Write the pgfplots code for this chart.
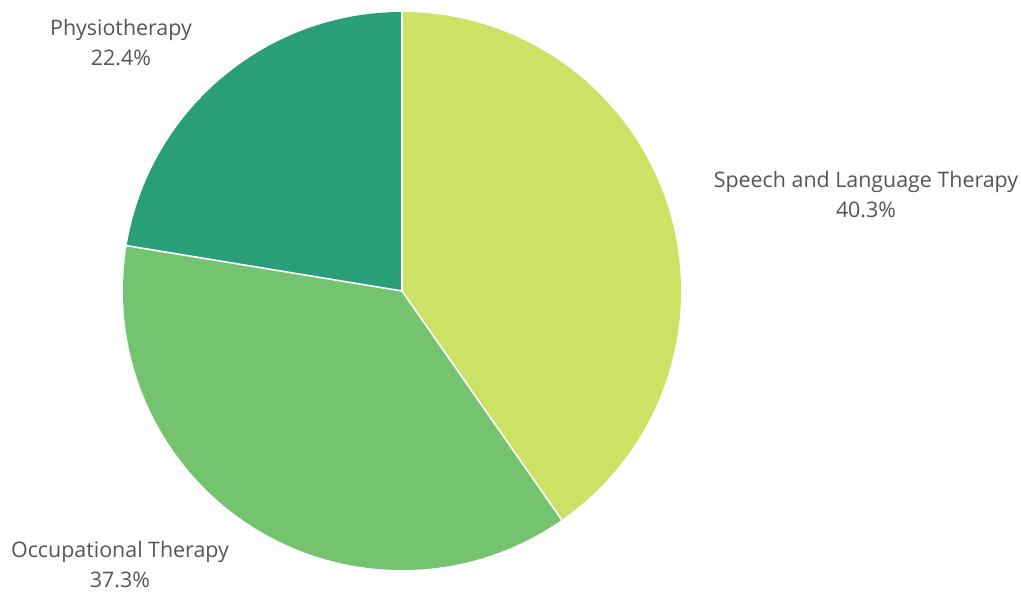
\documentclass[border=0pt]{standalone}
\usepackage{pgfplots}
\pgfplotsset{compat=1.18}
\usepackage{pgfplotstable}
\usepackage{fontspec}
\setmainfont{Open Sans}
\definecolor{cSpeech}{RGB}{203,226,101}
\definecolor{cOcc}{RGB}{116,196,111}
\definecolor{cPhys}{RGB}{42,158,121}
\definecolor{txt}{RGB}{85,85,85}
% percentages, clockwise from 12 o'clock
\pgfplotstableread{
name share
Speech 40.3
Occupational 37.3
Physio 22.4
}\piedata
\begin{document}
\begin{tikzpicture}
\pgfplotstablegetelem{0}{share}\of\piedata \let\sA\pgfplotsretval
\pgfplotstablegetelem{1}{share}\of\piedata \let\sB\pgfplotsretval
\pgfplotstablegetelem{2}{share}\of\piedata \let\sC\pgfplotsretval
\pgfmathsetmacro{\aA}{90}
\pgfmathsetmacro{\aB}{90-3.6*\sA}
\pgfmathsetmacro{\aC}{\aB-3.6*\sB}
\pgfmathsetmacro{\aD}{\aC-3.6*\sC}
\begin{axis}[
  x=0.5pt, y=0.5pt,
  xmin=0, xmax=1021, ymin=0, ymax=591,
  hide axis, clip=false,
  scale only axis,
]
\coordinate (ll) at (axis cs:0,0);
\coordinate (ur) at (axis cs:1021,591);
\def\R{279}
\def\cx{402}
\def\cy{300}
\fill[cSpeech] (axis cs:\cx,\cy) -- (axis cs:{\cx+\R*cos(\aA)},{\cy+\R*sin(\aA)}) arc[start angle=\aA, end angle=\aB, radius=139.5pt] -- cycle;
\fill[cOcc] (axis cs:\cx,\cy) -- (axis cs:{\cx+\R*cos(\aB)},{\cy+\R*sin(\aB)}) arc[start angle=\aB, end angle=\aC, radius=139.5pt] -- cycle;
\fill[cPhys] (axis cs:\cx,\cy) -- (axis cs:{\cx+\R*cos(\aC)},{\cy+\R*sin(\aC)}) arc[start angle=\aC, end angle=\aD, radius=139.5pt] -- cycle;
\draw[white, line width=0.8pt] (axis cs:\cx,\cy) -- (axis cs:{\cx+\R*cos(\aA)},{\cy+\R*sin(\aA)});
\draw[white, line width=0.8pt] (axis cs:\cx,\cy) -- (axis cs:{\cx+\R*cos(\aB)},{\cy+\R*sin(\aB)});
\draw[white, line width=0.8pt] (axis cs:\cx,\cy) -- (axis cs:{\cx+\R*cos(\aC)},{\cy+\R*sin(\aC)});
\node[txt, font=\fontsize{10.7}{15}\selectfont, align=center, inner sep=0pt] at (axis cs:866,396) {Speech and Language Therapy\\\sA\%};
\node[txt, font=\fontsize{10.7}{15}\selectfont, align=center, inner sep=0pt] at (axis cs:121,548) {Physiotherapy\\\sC\%};
\node[txt, font=\fontsize{10.7}{15}\selectfont, align=center, inner sep=0pt] at (axis cs:120,26) {Occupational Therapy\\\sB\%};
\end{axis}
\pgfresetboundingbox
\path (ll) rectangle (ur);
\end{tikzpicture}
\end{document}
